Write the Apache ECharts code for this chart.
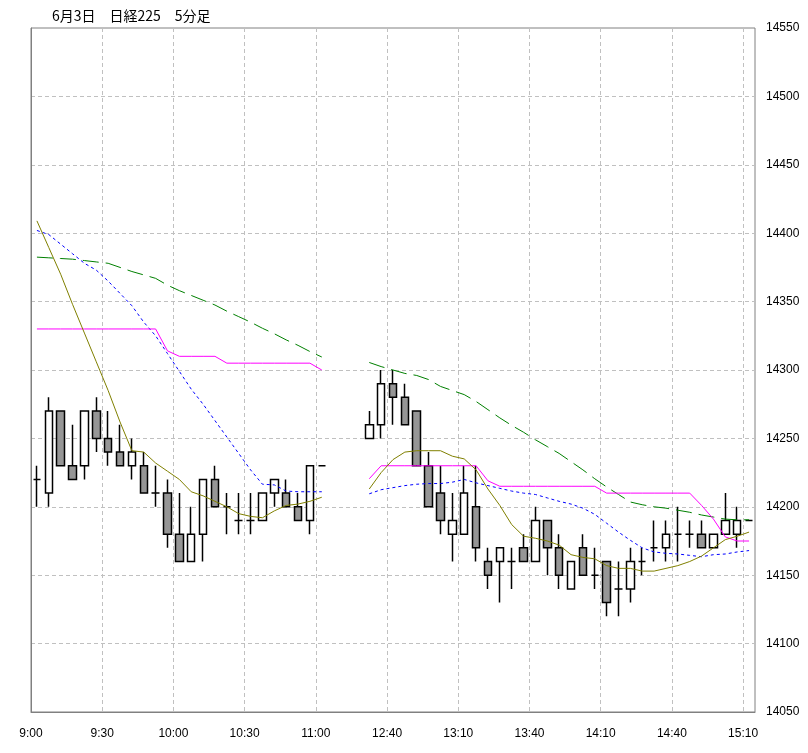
<!DOCTYPE html>
<html><head><meta charset="utf-8">
<script src="https://cdn.jsdelivr.net/npm/echarts@6/dist/echarts.min.js"></script>
<style>html,body{margin:0;padding:0;background:#fff}#c{width:808px;height:753px}</style>
</head><body><div id="c"></div>
<script>
const titleText = '6月3日　日経225　5分足';
const tickLabels = ['9:00','9:30','10:00','10:30','11:00','12:40','13:10','13:40','14:10','14:40','15:10'];
const yTicks = {min: 14050, max: 14550, step: 50};
const N = null;
// index 0 = 9:00 ... 24 = 11:00, 25-27 lunch gap, 28 = 12:30 ... 60 = 15:10
const openV  = [14220,14210,14270,14230,14230,14270,14250,14240,14230,14230,14210,14210,14180,14160,14180,14220,14200,14190,14190,14190,14210,14210,14200,14190,14230,N,N,N,
  14250,14260,14290,14280,14270,14230,14210,14180,14180,14200,14160,14160,14160,14170,14160,14190,14170,14140,14170,14150,14160,14140,14140,14160,14170,14170,14180,14180,14180,14170,14180,14180,14190];
const closeV = [14220,14270,14230,14220,14270,14250,14240,14230,14240,14210,14210,14180,14160,14180,14220,14200,14200,14190,14190,14210,14220,14200,14190,14230,14230,N,N,N,
  14260,14290,14280,14260,14230,14200,14190,14190,14210,14170,14150,14170,14160,14160,14190,14170,14150,14160,14150,14150,14130,14140,14160,14160,14170,14180,14180,14180,14170,14180,14190,14190,14190];
const lowV   = [14200,14200,14230,14220,14220,14240,14230,14230,14220,14210,14200,14170,14160,14160,14160,14200,14180,14180,14180,14190,14200,14200,14190,14180,14230,N,N,N,
  14250,14250,14260,14260,14230,14200,14180,14160,14180,14160,14140,14130,14140,14160,14160,14150,14140,14140,14150,14140,14120,14120,14130,14150,14160,14160,14160,14170,14170,14170,14180,14170,14190];
const highV  = [14230,14280,14270,14260,14270,14280,14270,14260,14250,14240,14230,14220,14210,14200,14220,14230,14210,14210,14210,14210,14220,14220,14210,14230,14230,N,N,N,
  14270,14300,14300,14290,14270,14240,14230,14210,14230,14230,14170,14170,14170,14180,14200,14190,14180,14160,14180,14170,14160,14160,14170,14170,14190,14190,14200,14190,14190,14180,14210,14200,14190];
const maOlive = [14409,14389.5,14370,14348,14327,14306,14285,14262,14241,14240,14232,14226,14220,14211,14208,14204,14200,14195,14193,14192,14197,14201,14202,14204,14207,N,N,N,
  14213,14225,14234.5,14240,14241,14241,14241,14237,14235,14227,14213,14201,14187,14178.5,14177,14175,14172,14165,14163,14162,14157,14155,14155,14153,14153,14155,14157,14160,14164,14170,14176,14178.5,14181.5];
const maBlue = [14402,14399,14392,14385,14378,14373,14365,14356,14347,14335,14325,14312,14299,14286,14275,14263,14251,14239,14227,14216.5,14216,14211.5,14211,14211,14211,N,N,N,
  14209.5,14212.5,14214,14215.5,14216.5,14217,14217,14218,14220,14217.5,14215.5,14213.5,14211.5,14210,14209,14206.5,14204,14202,14199,14194.5,14188,14181.5,14175.5,14170,14167,14166,14165.5,14164.5,14163.5,14165,14165.5,14167,14168];
const maGreen = [14382.5,14382,14381.5,14381,14380,14379,14378,14375,14372,14369.5,14367,14362,14358,14354.5,14351,14347.5,14343,14339,14335,14330.5,14326.5,14322,14318,14313.5,14309.5,N,N,N,
  14305.5,14302.5,14300,14297.5,14296,14293,14288,14285,14282,14277,14271,14265,14259.5,14254.5,14249,14244,14239,14233,14227,14220.5,14214.5,14209,14203.5,14201.5,14200,14199,14197.5,14196,14194,14192.5,14191,14190.5,14190.5];
const maMagenta = [14330,14330,14330,14330,14330,14330,14330,14330,14330,14330,14330,14314,14310,14310,14310,14310,14305,14305,14305,14305,14305,14305,14305,14305,14300,N,N,N,
  14220.5,14230,14230,14230,14230,14230,14230,14230,14230,14230,14219,14215,14215,14215,14215,14215,14215,14215,14215,14215,14210,14210,14210,14210,14210,14210,14210,14210,14201,14191,14178,14175,14175];

const candles = [];
openV.forEach((o, i) => { if (o != null) candles.push([i + 0.5, o, closeV[i], lowV[i], highV[i]]); });
const toLine = arr => arr.map((v, i) => [i + 0.5, v == null ? null : v]);

const gridLine = {show: true, lineStyle: {color: '#c0c0c0', type: [4, 3], width: 1}};
const lineSeries = (arr, color, type, width) => ({
  type: 'line', data: toLine(arr), showSymbol: false, symbol: 'none', connectNulls: false,
  silent: true, z: 3, lineStyle: {color, width, type}
});

const chart = echarts.init(document.getElementById('c'), null, {renderer: 'canvas'});
chart.setOption({
  animation: false,
  backgroundColor: '#ffffff',
  title: {text: titleText, left: 47, top: 4, textStyle: {fontFamily: '"Noto Sans CJK JP", sans-serif', fontSize: 14, fontWeight: 'normal', color: '#000'}},
  grid: {left: 31, right: 53, top: 28, bottom: 41, show: true, borderColor: '#808080', borderWidth: 1, backgroundColor: 'transparent'},
  xAxis: {
    type: 'value', min: 0, max: 61, interval: 6,
    axisLine: {show: true, lineStyle: {color: '#808080'}},
    axisTick: {show: false},
    axisLabel: {
      color: '#000', fontSize: 12, fontFamily: '"Liberation Sans", Arial, sans-serif', margin: 16,
      showMinLabel: true, showMaxLabel: true,
      formatter: v => (v % 6 === 0 && v / 6 < tickLabels.length) ? tickLabels[v / 6] : ''
    },
    splitLine: Object.assign({showMinLine: false, showMaxLine: false}, gridLine)
  },
  yAxis: {
    type: 'value', position: 'right', min: yTicks.min, max: yTicks.max, interval: yTicks.step,
    axisLine: {show: true, lineStyle: {color: '#808080'}},
    axisTick: {show: false},
    axisLabel: {color: '#000', fontSize: 12, fontFamily: '"Liberation Sans", Arial, sans-serif', margin: 11, formatter: v => String(v)},
    splitLine: Object.assign({showMinLine: false, showMaxLine: false}, gridLine)
  },
  series: [
    {
      type: 'candlestick', data: candles, barWidth: 8, z: 2, silent: true,
      itemStyle: {color: '#ffffff', color0: '#969696', borderColor: '#000000', borderColor0: '#000000', borderColorDoji: '#000000', borderWidth: 1.5}
    },
    lineSeries(maGreen, '#008000', [16, 7], 1),
    lineSeries(maBlue, '#0000ff', [3, 3], 1),
    lineSeries(maMagenta, '#ff00ff', 'solid', 1),
    lineSeries(maOlive, '#808000', 'solid', 1)
  ]
});
</script>
</body></html>
